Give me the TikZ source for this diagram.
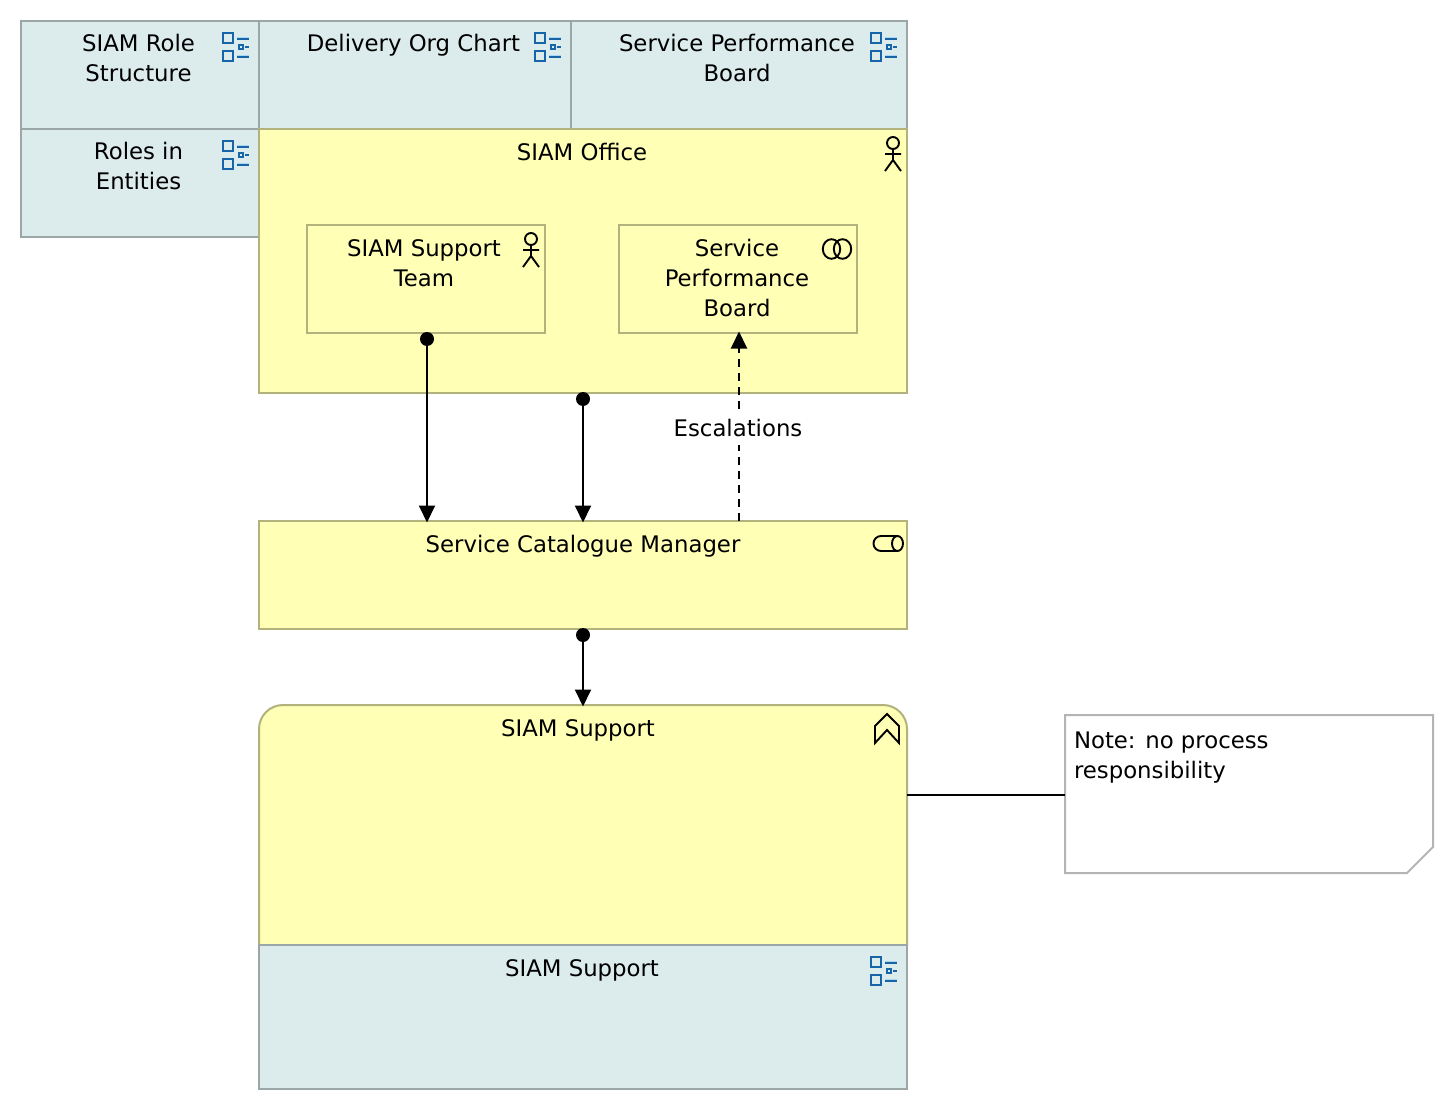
\documentclass[tikz,border=0pt]{standalone}
\usepackage{fontspec}
\setmainfont{DejaVu Sans}
\usetikzlibrary{arrows.meta,calc,backgrounds}
\definecolor{viewfill}{HTML}{DCEBEB}
\definecolor{viewline}{HTML}{9BA6A6}
\definecolor{actfill}{HTML}{FFFFB5}
\definecolor{actline}{HTML}{B2B27D}
\definecolor{noteline}{HTML}{B4B4B4}
\definecolor{iconblue}{HTML}{1565A8}
\definecolor{iconlight}{HTML}{A9D6F3}
% W, H, top offset, shift to the left (x2), text
\newcommand{\boxtext}[5]{\parbox[c][#2pt][t]{#1pt}{\fontsize{22.8}{30}\selectfont\vspace*{#3pt}\centering\leftskip=0pt plus 1fil\rightskip=#4pt plus 1fil\relax\strut #5\par}}
\tikzset{
  every node/.style={inner sep=0pt,outer sep=0pt},
  viewbox/.style={draw=viewline,fill=viewfill,line width=2pt},
  activebox/.style={draw=actline,fill=actfill,line width=2pt},
  conn/.style={line width=2pt,black},
  tipped/.style={conn,shorten >=-1.5pt,-{Triangle[length=17pt,width=16pt]}},
  dotnode/.style={circle,fill=black,minimum size=14pt},
  lbl/.style={font=\fontsize{22.8}{30}\selectfont,fill=white,minimum height=35pt},
  iconline/.style={draw=black,line width=1.9pt,line join=miter},
  viewicon/.pic={
    \draw[iconblue,line width=2.2pt] (-35.9,12.1) rectangle (-26.1,21.9) (-35.9,30.1) rectangle (-26.1,39.9);
    \draw[iconblue,line width=2pt] (-20,24) rectangle (-16,28);
    \draw[iconlight,line width=1pt] (-22,16.5) -- (-10,16.5) (-22,34.5) -- (-10,34.5);
    \draw[iconblue,line width=2pt] (-22,18) -- (-10,18) (-22,36) -- (-10,36) (-14,26) -- (-10,26);
  },
  actoricon/.pic={
    \draw[iconline] (-14,14) circle (6) (-14,20) -- (-14,31) (-22,25) -- (-6,25) (-22,42) -- (-14,31) -- (-6,42);
  },
  collabicon/.pic={
    \draw[iconline] (-25.5,24) ellipse (8.7 and 9.8) (-14.5,24) ellipse (8.7 and 9.8);
  },
  roleicon/.pic={
    \draw[iconline] (-9.5,15) -- (-26,15) arc[start angle=-90,end angle=-270,radius=7.5] -- (-9.5,30);
    \draw[iconline] (-9.5,22.5) ellipse (5.5 and 7.5);
  },
  capicon/.pic={
    \draw[iconline] (-32,38) -- (-32,21) -- (-20,9) -- (-8,21) -- (-8,38) -- (-20,25) -- cycle;
  },
}
\begin{document}
\begin{tikzpicture}[x=1pt,y=-1pt]
\useasboundingbox (0,0) rectangle (1454,1110);
% views along the top
\node[viewbox] (rolestruct) at (140,75) {\boxtext{238}{108}{10}{3}{SIAM Role\\\strut Structure}};
\node[viewbox] (orgchart) at (415,75) {\boxtext{312}{108}{10}{3}{Delivery Org Chart}};
\node[viewbox] (spboard) at (739,75) {\boxtext{336}{108}{10}{4}{Service Performance\\\strut Board}};
\node[viewbox] (roles) at (140,183) {\boxtext{238}{108}{10}{3}{Roles in\\\strut Entities}};
\pic at (rolestruct.north east) {viewicon};
\pic at (orgchart.north east) {viewicon};
\pic at (spboard.north east) {viewicon};
\pic at (roles.north east) {viewicon};
% SIAM office
\node[activebox] (office) at (583,261) {\boxtext{648}{264}{10}{2}{SIAM Office}};
\pic at (office.north east) {actoricon};
\node[activebox] (team) at (426,279) {\boxtext{238}{108}{10}{4}{SIAM Support\\\strut Team}};
\pic at (team.north east) {actoricon};
\node[activebox] (board) at (738,279) {\boxtext{238}{108}{10}{2}{Service\\\strut Performance\\\strut Board}};
\pic at (board.north east) {collabicon};
% catalogue manager
\node[activebox] (catalog) at (583,575) {\boxtext{648}{108}{10}{0}{Service Catalogue Manager}};
\pic at (catalog.north east) {roleicon};
% SIAM support capability
\node (support) at (583,825) {\boxtext{648}{240}{10}{10}{SIAM Support}};
\begin{scope}[on background layer]
  \draw[activebox] (support.south west) [rounded corners=24pt] -- (support.north west) -- (support.north east) [sharp corners] -- (support.south east) -- cycle;
\end{scope}
\pic at (support.north east) {capicon};
\node[viewbox] (supportview) at (583,1017) {\boxtext{648}{144}{10}{2}{SIAM Support}};
\pic at (supportview.north east) {viewicon};
% note
\node (note) at (1249,794) {\parbox[c][158pt][t]{368pt}{\fontsize{22.8}{30}\selectfont\vspace*{12pt}\leftskip=9pt\strut Note: no process\\\strut responsibility\par}};
\begin{scope}[on background layer]
  \draw[draw=noteline,fill=white,line width=2pt] (note.north west) -- (note.north east) -- ($(note.south east)+(0,-26)$) -- ($(note.south east)+(-26,0)$) -- (note.south west) -- cycle;
\end{scope}
% connectors
\node[dotnode] (d1) at ($(team.south)+(1,6)$) {};
\node[dotnode] (d2) at ($(office.south)+(0,6)$) {};
\node[dotnode] (d3) at ($(catalog.south)+(0,6)$) {};
\draw[tipped] (d1.center) -- (d1.center |- catalog.north);
\draw[tipped] (d2.center) -- (d2.center |- catalog.north);
\draw[tipped] (d3.center) -- (d3.center |- support.north);
\coordinate (boardport) at ($(board.south)+(1,0)$);
\draw[tipped,dash pattern=on 8pt off 6pt] (boardport |- catalog.north) -- (boardport);
\node[lbl] (esc) at (738,427.5) {Escalations};
\coordinate (noteport) at ($(note.west)+(0,1)$);
\draw[conn] (noteport) -- (noteport -| support.east);
\end{tikzpicture}
\end{document}
